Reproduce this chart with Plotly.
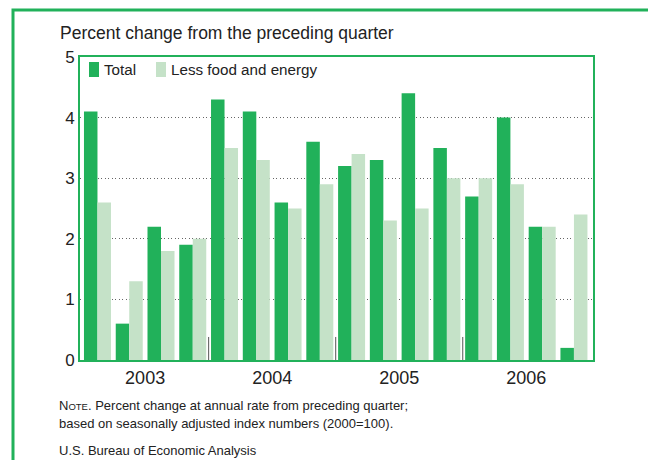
import plotly.graph_objects as go

quarters = [f"{y} Q{q}" for y in (2003, 2004, 2005, 2006) for q in (1, 2, 3, 4)]
total = [4.1, 0.6, 2.2, 1.9, 4.3, 4.1, 2.6, 3.6, 3.2, 3.3, 4.4, 3.5, 2.7, 4.0, 2.2, 0.2]
less_food_energy = [2.6, 1.3, 1.8, 2.0, 3.5, 3.3, 2.5, 2.9, 3.4, 2.3, 2.5, 3.0, 3.0, 2.9, 2.2, 2.4]
series_names = ["Total", "Less food and energy"]
years = ["2003", "2004", "2005", "2006"]
y_ticks = [0, 1, 2, 3, 4, 5]

DARK = "#21B15A"
LIGHT = "#C5E2C8"
FONT = "Liberation Sans, Arial, sans-serif"
TXT = "#222222"

# page is offset by the 8px body margin; plot area spans page px 80..593 x 57..360
PL, PR, PT, PB = 80, 593, 57, 360
FIG_W, FIG_H = 648, 452
def px(x):
    return (x - PL) / (PR - PL)
def py(y):
    return (PB - y) / (PB - PT)

xpos = list(range(len(quarters)))
year_centers = [i * 4 + 1.5 for i in range(len(years))]
year_bounds = [i * 4 - 0.5 for i in range(1, len(years))]

fig = go.Figure()
fig.add_trace(go.Bar(x=xpos, y=total, name=series_names[0], marker=dict(color=DARK, line=dict(width=0))))
fig.add_trace(go.Bar(x=xpos, y=less_food_energy, name=series_names[1],
                     marker=dict(color=LIGHT, line=dict(width=0))))

shapes = []
for b in year_bounds:
    shapes.append(dict(type="line", xref="x", yref="y", x0=b, x1=b, y0=0, y1=0.38,
                       line=dict(color="#555555", width=1)))
# outer frame
shapes.append(dict(type="path", xref="paper", yref="paper",
                   path=f"M {px(13)} -0.5 L {px(13)} {py(10)} L {px(652)} {py(10)} L {px(652)} -0.5",
                   line=dict(color=DARK, width=3)))
# legend swatches
shapes.append(dict(type="rect", xref="paper", yref="paper", x0=px(89), x1=px(99), y0=py(77), y1=py(62),
                   fillcolor=DARK, line=dict(width=0)))
shapes.append(dict(type="rect", xref="paper", yref="paper", x0=px(156), x1=px(166), y0=py(77), y1=py(62),
                   fillcolor=LIGHT, line=dict(width=0)))

annotations = [
    dict(text="Percent change from the preceding quarter", xref="paper", yref="paper",
         x=px(58), y=py(33), xanchor="left", yanchor="middle", showarrow=False,
         font=dict(family=FONT, size=17.5, color=TXT)),
    dict(text=series_names[0], xref="paper", yref="paper", x=px(102), y=py(70),
         xanchor="left", yanchor="middle", showarrow=False,
         font=dict(family=FONT, size=15.2, color=TXT)),
    dict(text=series_names[1], xref="paper", yref="paper", x=px(169), y=py(70),
         xanchor="left", yanchor="middle", showarrow=False,
         font=dict(family=FONT, size=15.2, color=TXT)),
    dict(text="N<span style='font-size:9.5px'>OTE</span>. Percent change at annual rate from preceding quarter;",
         xref="paper", yref="paper", x=px(57), y=py(405), xanchor="left", yanchor="middle",
         showarrow=False, font=dict(family=FONT, size=13, color=TXT)),
    dict(text="based on seasonally adjusted index numbers (2000=100).",
         xref="paper", yref="paper", x=px(57), y=py(423), xanchor="left", yanchor="middle",
         showarrow=False, font=dict(family=FONT, size=13, color=TXT)),
    dict(text="U.S. Bureau of Economic Analysis",
         xref="paper", yref="paper", x=px(57), y=py(450), xanchor="left", yanchor="middle",
         showarrow=False, font=dict(family=FONT, size=13, color=TXT)),
]

fig.update_layout(
    width=FIG_W, height=FIG_H,
    margin=dict(l=PL - 8, r=FIG_W + 8 - PR, t=PT - 8, b=FIG_H + 8 - PB),
    paper_bgcolor="white", plot_bgcolor="white",
    barmode="group", bargap=0.15, bargroupgap=0,
    font=dict(family=FONT, color=TXT),
    showlegend=False,
    xaxis=dict(range=[-0.55, 15.6], tickmode="array", tickvals=year_centers, ticktext=years,
               showgrid=False, zeroline=False, ticks="", showline=True, linecolor=DARK,
               linewidth=2, mirror=True, tickfont=dict(size=18, family=FONT, color=TXT)),
    yaxis=dict(range=[0, 5], tickmode="array", tickvals=y_ticks, showgrid=True,
               gridcolor="#666666", griddash="1px,2.5px", gridwidth=1, zeroline=False, ticks="",
               showline=True, linecolor=DARK, linewidth=2, mirror=True,
               tickfont=dict(size=17, family=FONT, color=TXT)),
    shapes=shapes,
    annotations=annotations,
)

fig.write_html("out.html")
